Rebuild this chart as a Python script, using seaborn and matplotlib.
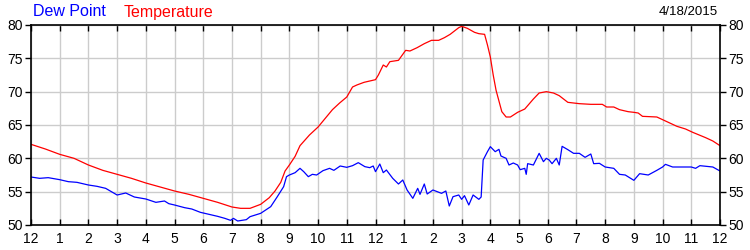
import matplotlib
matplotlib.use("Agg")
import matplotlib.pyplot as plt
import seaborn as sns
import pandas as pd

# ---- data ----
temp_hours = [0, 0.5, 1, 1.5, 2, 2.5, 3, 3.5, 4, 4.5, 5, 5.5, 6, 6.5, 7, 7.3, 7.63, 8, 8.3,
              8.5, 8.7, 8.85, 9, 9.2, 9.37, 9.7, 10, 10.25, 10.5, 10.75, 11, 11.2, 11.35,
              11.6, 12, 12.1, 12.27, 12.38, 12.5, 12.8, 13.05, 13.2, 13.45, 13.7, 13.95,
              14.2, 14.4, 14.6, 14.9, 15.0, 15.2, 15.45, 15.6, 15.8, 15.9, 16.0, 16.1,
              16.2, 16.4, 16.55, 16.7, 16.95, 17.2, 17.5, 17.7, 17.95, 18.2, 18.4, 18.7,
              19.1, 19.5, 19.9, 20.05, 20.3, 20.5, 20.8, 21.0, 21.15, 21.3, 21.8, 22.1,
              22.5, 22.8, 23.05, 23.5, 23.75, 24]
temp_vals = [62.1, 61.4, 60.6, 60.0, 59.0, 58.2, 57.6, 57.0, 56.3, 55.7, 55.1, 54.6, 54.0,
             53.4, 52.7, 52.5, 52.5, 53.1, 54.1, 55.1, 56.4, 58.1, 59.0, 60.3, 61.9, 63.5,
             64.7, 66.0, 67.3, 68.3, 69.2, 70.7, 71.0, 71.4, 71.8, 72.5, 74.0, 73.7, 74.5,
             74.7, 76.2, 76.1, 76.6, 77.2, 77.7, 77.7, 78.1, 78.6, 79.6, 79.8, 79.5, 78.9,
             78.7, 78.6, 77.0, 75.2, 72.5, 70.2, 67.0, 66.2, 66.2, 66.9, 67.4, 68.9, 69.8,
             70.0, 69.8, 69.4, 68.4, 68.2, 68.1, 68.1, 67.7, 67.7, 67.3, 67.0, 66.9, 66.8,
             66.3, 66.2, 65.6, 64.8, 64.4, 63.9, 63.1, 62.6, 61.9]

dew_hours = [0, 0.3, 0.6, 1, 1.3, 1.6, 2, 2.3, 2.6, 3, 3.3, 3.6, 4, 4.35, 4.65, 4.8, 5,
             5.35, 5.6, 5.9, 6.2, 6.5, 6.75, 6.95, 7.05, 7.2, 7.5, 7.63, 8, 8.35, 8.58,
             8.8, 8.9, 9, 9.2, 9.37, 9.5, 9.66, 9.8, 9.95, 10.17, 10.4, 10.55, 10.77, 11,
             11.2, 11.4, 11.63, 11.8, 11.92, 12, 12.15, 12.27, 12.38, 12.6, 12.8, 12.95,
             13.1, 13.3, 13.47, 13.55, 13.7, 13.8, 14, 14.15, 14.3, 14.45, 14.57, 14.7,
             14.9, 15.0, 15.1, 15.25, 15.4, 15.6, 15.68, 15.75, 15.9, 16, 16.17, 16.3,
             16.37, 16.55, 16.65, 16.8, 16.95, 17.04, 17.2, 17.25, 17.3, 17.5, 17.7,
             17.85, 17.95, 18.05, 18.15, 18.3, 18.4, 18.5, 18.7, 18.9, 19.1, 19.3, 19.5,
             19.6, 19.8, 20, 20.3, 20.5, 20.7, 21, 21.2, 21.5, 21.8, 22, 22.1, 22.35,
             22.6, 23, 23.15, 23.3, 23.75, 24]
dew_vals = [57.2, 57.0, 57.1, 56.8, 56.5, 56.4, 56.0, 55.8, 55.5, 54.5, 54.8, 54.2, 53.9,
            53.4, 53.6, 53.2, 53.0, 52.6, 52.4, 51.9, 51.6, 51.3, 51.0, 50.7, 51.0, 50.6,
            50.8, 51.25, 51.75, 52.75, 54.25, 55.75, 57.25, 57.5, 57.85, 58.5, 58.0, 57.25,
            57.6, 57.5, 58.15, 58.5, 58.2, 58.85, 58.65, 58.9, 59.35, 58.75, 58.6, 58.85,
            58.0, 59.15, 57.85, 58.25, 57.0, 56.15, 56.75, 55.25, 54.0, 55.5, 54.6, 56.15,
            54.65, 55.25, 55.0, 54.75, 55.1, 52.85, 54.25, 54.5, 53.85, 54.4, 53.0, 54.5,
            53.85, 54.2, 59.75, 61.0, 61.75, 61.0, 61.35, 60.35, 60.0, 59.0, 59.3, 59.0,
            58.3, 58.5, 57.6, 59.2, 59.0, 60.75, 59.5, 60.0, 59.75, 59.2, 60.0, 59.0, 61.8,
            61.3, 60.75, 60.75, 60.15, 60.65, 59.2, 59.25, 58.7, 58.5, 57.6, 57.5, 56.7,
            57.7, 57.5, 58.2, 58.7, 59.1, 58.7, 58.7, 58.7, 58.5, 58.9, 58.7, 58.1]

hour_labels = ["12", "1", "2", "3", "4", "5", "6", "7", "8", "9", "10", "11",
               "12", "1", "2", "3", "4", "5", "6", "7", "8", "9", "10", "11", "12"]
y_ticks = [50, 55, 60, 65, 70, 75, 80]
date_text = "4/18/2015"

df_t = pd.DataFrame({"hour": temp_hours, "value": temp_vals})
df_d = pd.DataFrame({"hour": dew_hours, "value": dew_vals})

sns.set_style("white")
plt.rcParams["font.family"] = ["Liberation Sans", "DejaVu Sans"]

fig = plt.figure(figsize=(7.5, 2.5), dpi=100)
ax = fig.add_axes([31 / 750, 0.1, 689 / 750, 0.8])

sns.lineplot(data=df_t, x="hour", y="value", color="#ff0000", lw=0.9, ax=ax)
sns.lineplot(data=df_d, x="hour", y="value", color="#0000ff", lw=0.9, ax=ax)

ax.set_xlim(0, 24)
ax.set_ylim(50, 80)
ax.set_xticks(range(25))
ax.set_xticklabels(hour_labels)
ax.set_yticks(y_ticks)
ax.set_xlabel("")
ax.set_ylabel("")
ax.grid(True, color="#cccccc", lw=1.0)
ax.set_axisbelow(True)
for s in ax.spines.values():
    s.set_visible(True)
    s.set_color("black")
    s.set_linewidth(1.2)

ax.tick_params(axis="x", which="both", direction="in", top=True, bottom=True,
               length=4, width=1, labelsize=10, pad=5, colors="black")
ax.tick_params(axis="y", which="both", direction="out", left=True, right=True,
               labelleft=True, labelright=True, length=4, width=1, labelsize=10,
               pad=2, colors="black")

fig.text(33 / 750, 1 - 12 / 250, "Dew Point", color="#0000ff", fontsize=11.5,
         va="center", ha="left")
fig.text(124 / 750, 1 - 12 / 250, "Temperature", color="#ff0000", fontsize=11.5,
         va="center", ha="left")
fig.text(718 / 750, 1 - 12 / 250, date_text, color="black", fontsize=9.5,
         va="center", ha="right")

fig.savefig("out.png", dpi=100)
